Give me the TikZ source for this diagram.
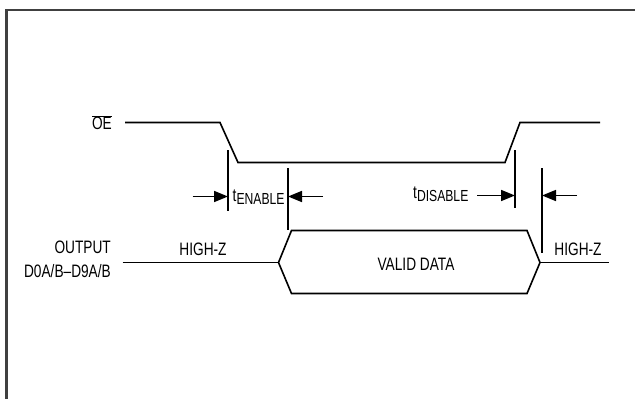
\documentclass[tikz,border=0pt]{standalone}
\usepackage{fontspec}
\setmainfont{Liberation Sans}[FakeStretch=0.76]
\usetikzlibrary{arrows.meta}
\begin{document}
\begin{tikzpicture}[x=1pt,y=-1pt,
  sig/.style={line width=1.6pt,line join=miter},
  tick/.style={line width=1.6pt},
  dimarrow/.style={line width=1.6pt,-{Triangle[length=14pt,width=11pt]}},
  lbl/.style={inner sep=0pt,font=\fontsize{18}{18}\selectfont}]
\useasboundingbox (0,0) rectangle (635,399);
% outer frame (open at right and bottom)
\draw[line width=2.2pt,black!75] (6.5,400) -- (6.5,10) -- (636,10);

% OE waveform
\coordinate (oeA) at (125,122.5);
\coordinate (oeB) at (220,122.5);
\coordinate (oeC) at (238,162.5);
\coordinate (oeD) at (505,162.5);
\coordinate (oeE) at (520,122.5);
\coordinate (oeF) at (600,122.5);
\draw[sig] (oeA) -- (oeB) -- (oeC) -- (oeD) -- (oeE) -- (oeF);
\node[lbl,anchor=east] (oe) at (112,122.5) {$\overline{\mbox{OE}}$};

% output bus
\coordinate (bA) at (122.5,262.5);
\coordinate (bL) at (278.5,262.5);
\coordinate (bUL) at (291.5,230.5);
\coordinate (bLL) at (291.5,293.5);
\coordinate (bUR) at (527,230.5);
\coordinate (bLR) at (527,293.5);
\coordinate (bR) at (540,262.5);
\coordinate (bZ) at (609,262.5);
\draw[sig] (bL) -- (bUL) -- (bUR) -- (bR) -- (bLR) -- (bLL) -- cycle;
\draw[sig] (bA) -- (bL);
\draw[sig] (bR) -- (bZ);
\node[lbl,anchor=east,align=right] (out) at (111,259) {OUTPUT\\[6pt]D0A/B–D9A/B};
\node[lbl] (hz1) at (203,249) {HIGH-Z};
\node[lbl] (hz2) at (578,249) {HIGH-Z};
\node[lbl] (vd) at (416,264) {VALID DATA};

% enable time markers
\coordinate (e1t) at (228,150);
\coordinate (e1b) at (228,211);
\coordinate (e2t) at (288,168);
\coordinate (e2b) at (288,229.5);
\draw[tick] (e1t) -- (e1b);
\draw[tick] (e2t) -- (e2b);
\coordinate (ea1) at (192.5,196.5);
\coordinate (ea2) at (323,196.5);
\draw[dimarrow] (ea1) -- (e1t |- ea1);
\draw[dimarrow] (ea2) -- (e2t |- ea2);
\node[lbl,anchor=base west] (ten) at (232.5,201.5) {t\raisebox{-3pt}{\fontsize{16}{16}\selectfont ENABLE}};

% disable time markers
\coordinate (d1t) at (515,150);
\coordinate (d1b) at (515,208);
\coordinate (d2t) at (542,168);
\coordinate (d2b) at (542,253);
\draw[tick] (d1t) -- (d1b);
\draw[tick] (d2t) -- (d2b);
\coordinate (da1) at (477,195.5);
\coordinate (da2) at (577,195.5);
\draw[dimarrow] (da1) -- (d1t |- da1);
\draw[dimarrow] (da2) -- (d2t |- da2);
\node[lbl,anchor=base west] (tdis) at (413,198.5) {t\raisebox{-3pt}{\fontsize{16}{16}\selectfont DISABLE}};
\end{tikzpicture}
\end{document}
